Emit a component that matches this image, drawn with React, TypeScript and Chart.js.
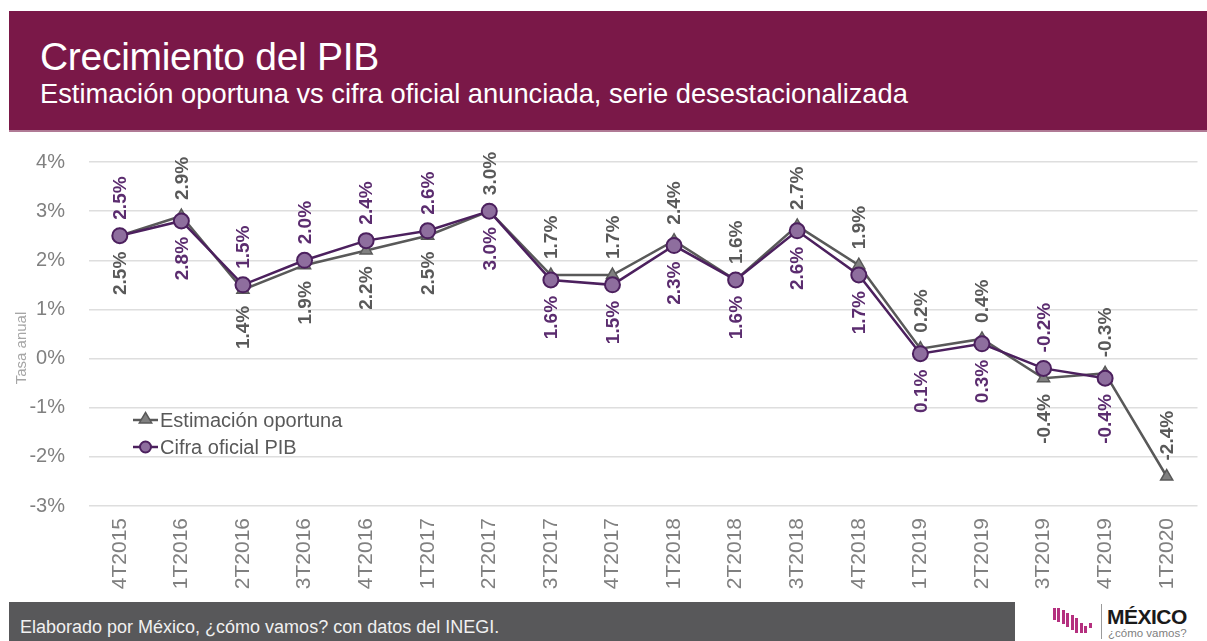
import React, { useEffect, useRef } from "react";
import { Chart, registerables } from "chart.js";

Chart.register(...registerables);

const categories = [
  "4T2015", "1T2016", "2T2016", "3T2016", "4T2016", "1T2017", "2T2017", "3T2017", "4T2017",
  "1T2018", "2T2018", "3T2018", "4T2018", "1T2019", "2T2019", "3T2019", "4T2019", "1T2020",
];
const estimacionOportuna = [2.5, 2.9, 1.4, 1.9, 2.2, 2.5, 3.0, 1.7, 1.7, 2.4, 1.6, 2.7, 1.9, 0.2, 0.4, -0.4, -0.3, -2.4];
const cifraOficial = [2.5, 2.8, 1.5, 2.0, 2.4, 2.6, 3.0, 1.6, 1.5, 2.3, 1.6, 2.6, 1.7, 0.1, 0.3, -0.2, -0.4, null];
// label placement: 1 = above the point, -1 = below
const estLabelSide = [-1, 1, -1, -1, -1, -1, 1, 1, 1, 1, 1, 1, 1, 1, 1, -1, 1, 1];
const cifLabelSide = [1, -1, 1, 1, 1, 1, -1, -1, -1, -1, -1, -1, -1, -1, -1, 1, -1, -1];
const yTicks = [-3, -2, -1, 0, 1, 2, 3, 4];

const GRAY_LINE = "#595959";
const GRAY_FILL = "#808080";
const PURPLE_LINE = "#4c205e";
const PURPLE_FILL = "#8e6e9e";
const FONT = "'Liberation Sans', Arial, sans-serif";

function drawTriangle(ctx: CanvasRenderingContext2D, x: number, y: number, r: number) {
  ctx.beginPath();
  ctx.moveTo(x, y - r);
  ctx.lineTo(x + r * 0.95, y + r * 0.6);
  ctx.lineTo(x - r * 0.95, y + r * 0.6);
  ctx.closePath();
}

const labelsPlugin = {
  id: "pointLabels",
  afterDatasetsDraw(chart: any) {
    const ctx = chart.ctx as CanvasRenderingContext2D;
    chart.data.datasets.forEach((ds: any, di: number) => {
      const meta = chart.getDatasetMeta(di);
      const sides = ds._sides as number[];
      meta.data.forEach((pt: any, i: number) => {
        const v = ds.data[i];
        if (v === null || v === undefined) return;
        ctx.save();
        ctx.font = `bold 19px ${FONT}`;
        ctx.fillStyle = ds._labelColor;
        ctx.textBaseline = "middle";
        const side = sides[i];
        ctx.translate(pt.x, pt.y - side * 16);
        ctx.rotate(-Math.PI / 2);
        ctx.textAlign = side > 0 ? "left" : "right";
        ctx.fillText(v.toFixed(1) + "%", 0, 1);
        ctx.restore();
      });
    });
  },
};

const legendPlugin = {
  id: "customLegend",
  afterDraw(chart: any) {
    const ctx = chart.ctx as CanvasRenderingContext2D;
    const a = chart.chartArea;
    const x0 = a.left + 44;
    const items = [
      { text: "Estimación oportuna", y: a.top + 258, kind: "tri" },
      { text: "Cifra oficial PIB", y: a.top + 285, kind: "circ" },
    ];
    items.forEach((it) => {
      ctx.save();
      ctx.lineWidth = 2.5;
      ctx.strokeStyle = it.kind === "tri" ? GRAY_LINE : PURPLE_LINE;
      ctx.beginPath();
      ctx.moveTo(x0, it.y);
      ctx.lineTo(x0 + 25, it.y);
      ctx.stroke();
      ctx.lineWidth = 1.5;
      if (it.kind === "tri") {
        ctx.fillStyle = GRAY_FILL;
        drawTriangle(ctx, x0 + 12.5, it.y - 1, 6.5);
        ctx.fill();
        ctx.stroke();
      } else {
        ctx.fillStyle = PURPLE_FILL;
        ctx.lineWidth = 2;
        ctx.beginPath();
        ctx.arc(x0 + 12.5, it.y, 5.5, 0, Math.PI * 2);
        ctx.fill();
        ctx.stroke();
      }
      ctx.font = `20px ${FONT}`;
      ctx.fillStyle = GRAY_LINE;
      ctx.textBaseline = "middle";
      ctx.textAlign = "left";
      ctx.fillText(it.text, x0 + 27, it.y + 1);
      ctx.restore();
    });
    // y axis title
    ctx.save();
    ctx.font = `15px ${FONT}`;
    ctx.fillStyle = "#a6a6a6";
    ctx.textAlign = "center";
    ctx.textBaseline = "middle";
    ctx.translate(22, (a.top + a.bottom) / 2 + 14);
    ctx.rotate(-Math.PI / 2);
    ctx.fillText("Tasa anual", 0, 0);
    ctx.restore();
  },
};

function ChartBox() {
  const ref = useRef<HTMLCanvasElement | null>(null);
  useEffect(() => {
    if (!ref.current) return;
    const chart = new Chart(ref.current, {
      type: "line",
      data: {
        labels: categories,
        datasets: [
          {
            label: "Estimación oportuna",
            data: estimacionOportuna,
            borderColor: GRAY_LINE,
            borderWidth: 2.5,
            pointStyle: "triangle",
            pointRadius: 7,
            pointBackgroundColor: GRAY_FILL,
            pointBorderColor: GRAY_LINE,
            pointBorderWidth: 1.5,
            tension: 0,
            order: 2,
            _sides: estLabelSide,
            _labelColor: GRAY_LINE,
          } as any,
          {
            label: "Cifra oficial PIB",
            data: cifraOficial,
            borderColor: PURPLE_LINE,
            borderWidth: 2.5,
            pointStyle: "circle",
            pointRadius: 7.5,
            pointBackgroundColor: PURPLE_FILL,
            pointBorderColor: PURPLE_LINE,
            pointBorderWidth: 2,
            tension: 0,
            order: 1,
            _sides: cifLabelSide,
            _labelColor: "#5b2c6f",
          } as any,
        ],
      },
      options: {
        animation: false,
        responsive: false,
        devicePixelRatio: 1,
        layout: { padding: { top: 30, right: 5, left: 0, bottom: 0 } },
        plugins: { legend: { display: false }, tooltip: { enabled: false } },
        scales: {
          x: {
            offset: true,
            grid: { display: false, drawTicks: false },
            border: { display: false },
            ticks: {
              minRotation: 90,
              maxRotation: 90,
              padding: 12,
              color: "#808080",
              font: { family: FONT, size: 21 },
              autoSkip: false,
            },
            afterFit(scale: any) {
              scale.height = 94;
              scale.paddingLeft = 0;
              scale.paddingRight = 0;
            },
          },
          y: {
            min: yTicks[0],
            max: yTicks[yTicks.length - 1],
            afterBuildTicks(scale: any) {
              scale.ticks = yTicks.map((v) => ({ value: v }));
            },
            grid: { color: "#dedede", lineWidth: 1.5, drawTicks: false },
            border: { display: false },
            ticks: {
              padding: 24,
              color: "#808080",
              font: { family: FONT, size: 20 },
              callback: (v: any) => `${v}%`,
            },
            afterFit(scale: any) {
              scale.width = 89;
              scale.paddingTop = 0;
              scale.paddingBottom = 0;
            },
          },
        },
      },
      plugins: [labelsPlugin, legendPlugin],
    });
    return () => chart.destroy();
  }, []);
  return <canvas ref={ref} width={1207} height={468} style={{ position: "absolute", left: 0, top: 132, width: 1207, height: 468 }} />;
}

const logoBars = [
  { x: 0, top: 0, h: 12 },
  { x: 4, top: 0, h: 14 },
  { x: 9, top: 2, h: 14 },
  { x: 13, top: 5, h: 14 },
  { x: 18, top: 7, h: 15 },
  { x: 22, top: 10, h: 15 },
  { x: 27, top: 15, h: 10 },
  { x: 31, top: 18, h: 7 },
  { x: 36, top: 15, h: 5 },
];

export default function App() {
  useEffect(() => {
    document.body.style.margin = "0";
  }, []);
  return (
    <div style={{ position: "absolute", left: 0, top: 0, width: 1207, height: 641, overflow: "hidden", background: "#ffffff", fontFamily: FONT }}>
      <div style={{ position: "absolute", left: 9, top: 11, width: 1198, height: 121, background: "#7a1848", borderBottom: "2px solid #b07a95", boxSizing: "border-box" }}>
        <div style={{ position: "absolute", left: 31, top: 23, color: "#ffffff", fontSize: 39, lineHeight: "46px", whiteSpace: "nowrap", letterSpacing: -0.3 }}>
          Crecimiento del PIB
        </div>
        <div style={{ position: "absolute", left: 31, top: 67, color: "#ffffff", fontSize: 27.3, lineHeight: "32px", whiteSpace: "nowrap" }}>
          Estimación oportuna vs cifra oficial anunciada, serie desestacionalizada
        </div>
      </div>
      <ChartBox />
      <div style={{ position: "absolute", left: 9, top: 602, width: 1006, height: 39, background: "#58585a" }}>
        <div style={{ position: "absolute", left: 11, top: 14, color: "#f0f0f0", fontSize: 18, lineHeight: "23px", whiteSpace: "nowrap" }}>
          Elaborado por México, ¿cómo vamos? con datos del INEGI.
        </div>
      </div>
      <div style={{ position: "absolute", left: 1053, top: 608, width: 42, height: 26 }}>
        {logoBars.map((b, i) => (
          <div key={i} style={{ position: "absolute", left: b.x, top: b.top, width: 3, height: b.h, background: "#b5307f" }} />
        ))}
      </div>
      <div style={{ position: "absolute", left: 1101, top: 604, width: 1, height: 35, background: "#9a9a9a" }} />
      <div style={{ position: "absolute", left: 1107, top: 605, fontSize: 21, fontWeight: "bold", color: "#1a1a1a", lineHeight: "24px", letterSpacing: -0.5, whiteSpace: "nowrap" }}>
        MÉXICO
      </div>
      <div style={{ position: "absolute", left: 1108, top: 627, fontSize: 11.5, color: "#808080", lineHeight: "13px", whiteSpace: "nowrap" }}>
        ¿cómo vamos?
      </div>
    </div>
  );
}
